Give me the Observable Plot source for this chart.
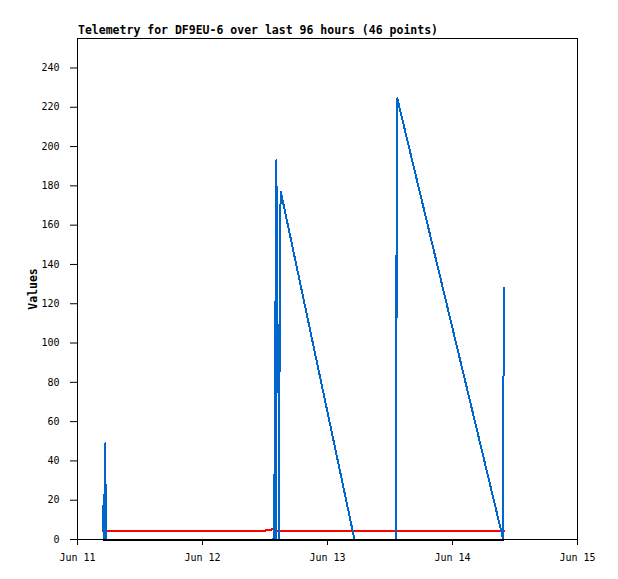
<!DOCTYPE html>
<html>
<head>
<meta charset="utf-8">
<script src="https://cdn.jsdelivr.net/npm/d3@7"></script>
<script src="https://cdn.jsdelivr.net/npm/@observablehq/plot@0.6"></script>
<style>
  html, body { margin: 0; padding: 0; background: white; }
  #title { height: 37px; box-sizing: border-box; padding-left: 78px; padding-top: 24px;
           font: bold 11.5px "DejaVu Sans Mono", monospace; line-height: 12px; color: black; white-space: pre; }
  g[aria-label="y-axis label"] text { font-weight: bold; font-size: 11.5px; }
</style>
</head>
<body>
<div id="title">Telemetry for DF9EU-6 over last 96 hours (46 points)</div>
<div id="chart"></div>
<script>
// hours after Jun 11 00:00 UTC
const hours = [4.85, 5.05, 5.34, 5.43, 36.05, 36.10, 37.15, 37.25, 37.632, 37.709, 37.786, 37.939, 38.054, 38.189, 38.304, 38.573, 38.707, 38.822, 38.899, 39.034, 53.18, 61.06, 61.11, 61.25, 61.31, 61.40, 81.70, 81.73, 81.95];
const blueValues = [17, 0, 49, 0, 0, 0, 0, 0, 0, 25, 0, 121, 0, 193, 121, 89, 0, 121, 161, 177, 0, 0, 80, 145, 113, 224.5, 0.5, 64, 128];
const redValues = [4.3, 4.3, 4.3, 4.3, 4.3, 4.7, 4.7, 5.2, 5.2, 4.3, 4.3, 4.3, 4.3, 4.3, 4.3, 4.3, 4.3, 4.3, 4.3, 4.3, 4.3, 4.3, 4.3, 4.3, 4.3, 4.3, 4.3, 4.3, 4.3];
const blackValues = [0, 0, 0, 0, 0, 0, 0, 0, 0, 0, 0, 0, 0, 0, 0, 0, 0, 0, 0, 0, 0, 0, 0, 0, 0, 0, 0, 0, 0];
const yTicks = [0, 20, 40, 60, 80, 100, 120, 140, 160, 180, 200, 220, 240];

const d0 = new Date(Date.UTC(2023, 5, 11));
const d4 = new Date(Date.UTC(2023, 5, 15));
const toDate = h => new Date(d0.getTime() + h * 3600e3);
const data = hours.map((h, i) => ({t: toDate(h), blue: blueValues[i], red: redValues[i], black: blackValues[i]}));

const chart = Plot.plot({
  width: 618,
  height: 542,
  marginLeft: 77,
  marginRight: 41,
  marginTop: 1,
  marginBottom: 40,
  style: {fontFamily: "DejaVu Sans Mono", fontSize: "10px", background: "white", color: "black", overflow: "visible"},
  x: {type: "utc", domain: [d0, d4]},
  y: {domain: [0, 255]},
  marks: [
    Plot.axisY({ticks: yTicks, tickSize: 7, tickPadding: 11, label: "Values", labelAnchor: "center", labelOffset: 49, labelArrow: "none"}),
    Plot.axisX({ticks: d3.utcDay.range(d0, new Date(d4.getTime() + 1)), tickFormat: d3.utcFormat("%b %d"), tickSize: 6, tickPadding: 8, label: null}),
    Plot.line(data, {x: "t", y: "red", stroke: "#ff0000", strokeWidth: 2, curve: "linear", shapeRendering: "crispEdges"}),
    Plot.line(data, {x: "t", y: "blue", stroke: "#0066cc", strokeWidth: 2, curve: "linear", shapeRendering: "crispEdges"}),
    Plot.line(data, {x: "t", y: "black", stroke: "#000000", strokeWidth: 2, curve: "linear", shapeRendering: "crispEdges"}),
    Plot.frame({stroke: "black", strokeWidth: 1, shapeRendering: "crispEdges"})
  ]
});
document.getElementById("chart").appendChild(chart);
</script>
</body>
</html>
